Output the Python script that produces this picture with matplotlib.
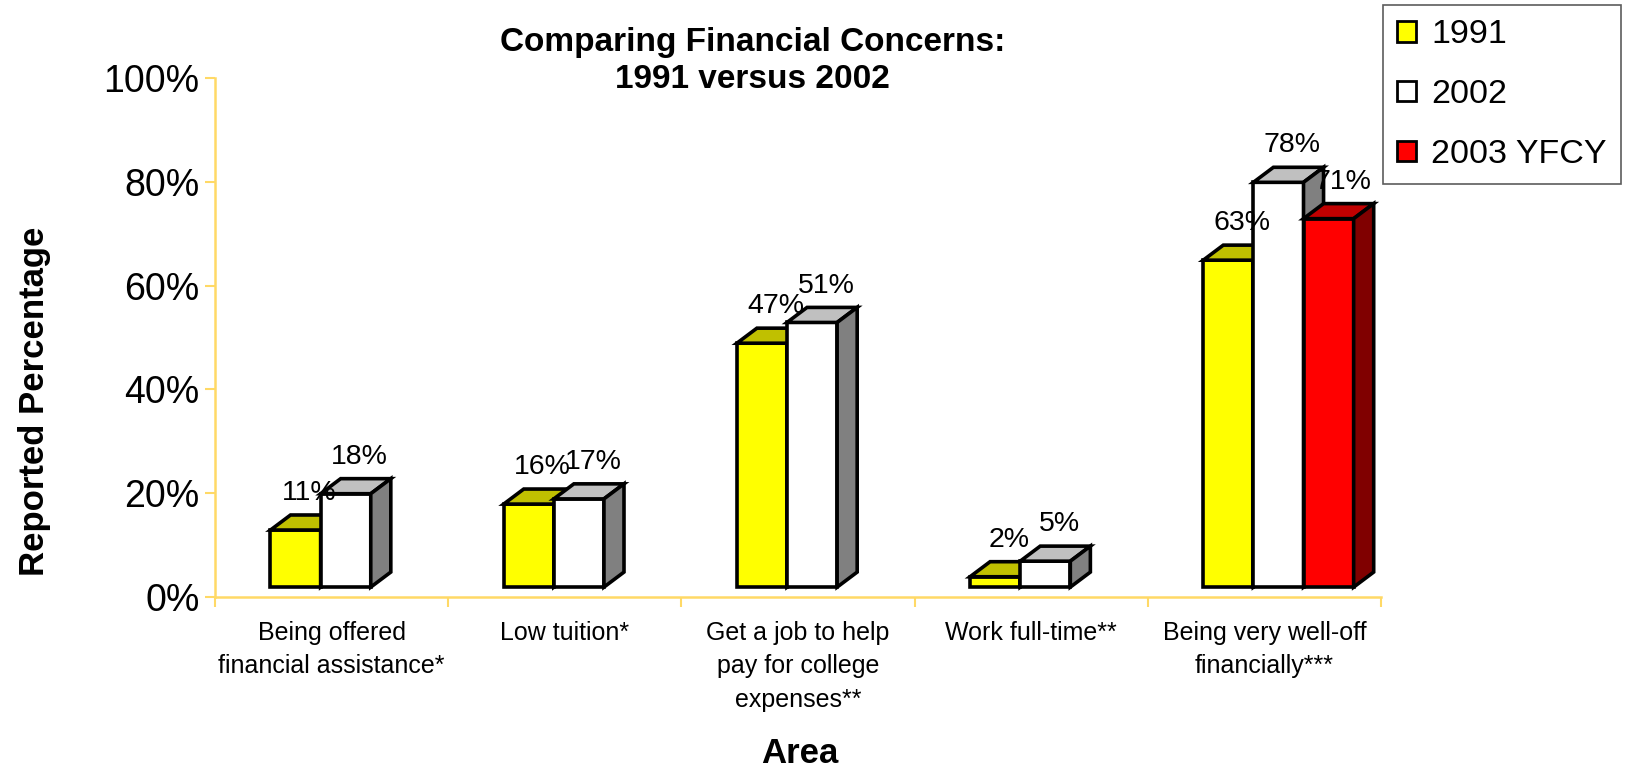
import matplotlib.pyplot as plt
from matplotlib.patches import Polygon, Patch
import numpy as np

plt.rcParams['font.family'] = ['Liberation Sans', 'DejaVu Sans']

categories = ["Being offered\nfinancial assistance*", "Low tuition*",
              "Get a job to help\npay for college\nexpenses**", "Work full-time**",
              "Being very well-off\nfinancially***"]
series_names = ["1991", "2002", "2003 YFCY"]
vals_1991 = [11, 16, 47, 2, 63]
vals_2002 = [18, 17, 51, 5, 78]
vals_2003 = [None, None, None, None, 71]

# front / top / side colours, excel style
faces = [("#FFFF00", "#C0C000", "#808000"),
         ("#FFFFFF", "#C0C0C0", "#808080"),
         ("#FF0000", "#C00000", "#800000")]

GOLD = "#FFD966"
BASE = 1.9      # front face sits a little above the floor line
DX = 0.086      # depth in x units
DY = 2.9        # depth in y units
W = 0.215
LW = 2.6

fig = plt.figure(figsize=(16.25, 7.71), dpi=100)
ax = fig.add_axes([0.1323, 0.2257, 0.8498 - 0.1323, 0.8988 - 0.2257])

x = np.arange(len(categories))
all_vals = [vals_1991, vals_2002, vals_2003]

for k, vals in enumerate(all_vals):
    front, top, side = faces[k]
    xs = [xi for xi, v in zip(x, vals) if v is not None]
    vs = [v for v in vals if v is not None]
    left = np.array(xs) - 0.262 + k * W
    ax.bar(left, vs, width=W, bottom=BASE, align='edge', color=front,
           edgecolor='black', linewidth=LW, zorder=3 + k)
    for xl, v in zip(left, vs):
        t = BASE + v
        xr = xl + W
        ax.add_patch(Polygon([(xl, t), (xl + DX, t + DY), (xr + DX, t + DY), (xr, t)],
                             closed=True, facecolor=top, edgecolor='black',
                             linewidth=LW, zorder=3 + k))
        ax.add_patch(Polygon([(xr, BASE), (xr + DX, BASE + DY), (xr + DX, t + DY), (xr, t)],
                             closed=True, facecolor=side, edgecolor='black',
                             linewidth=LW, zorder=3 + k))
        ax.text(xl + W / 2 + 0.06, v + 9.0, f"{v}%", ha='center', va='center',
                fontsize=20.5, color='black', zorder=10)

ax.set_xlim(-0.5, len(categories) - 0.5)
ax.set_ylim(0, 100)

ax.set_yticks(np.arange(0, 101, 20))
ax.set_yticklabels([f"{v}%" for v in range(0, 101, 20)], fontsize=27)
ax.set_xticks(np.arange(-0.5, len(categories), 1.0))
ax.set_xticklabels([])
ax.set_xticks(x, minor=True)
ax.set_xticklabels(categories, minor=True, fontsize=18, linespacing=1.5, va='top')
ax.tick_params(axis='y', length=7, width=1.5, color=GOLD, pad=4)
ax.tick_params(axis='x', which='major', length=7, width=1.5, color=GOLD)
ax.tick_params(axis='x', which='minor', length=0, pad=17)

for s in ['top', 'right']:
    ax.spines[s].set_visible(False)
for s in ['left', 'bottom']:
    ax.spines[s].set_color(GOLD)
    ax.spines[s].set_linewidth(1.8)

fig.text(0.463, 0.9215, "Comparing Financial Concerns:\n1991 versus 2002", ha='center',
         va='center', fontsize=24, fontweight='bold', linespacing=1.25)
fig.text(0.0215, 0.48, "Reported Percentage", rotation=90, ha='center', va='center',
         fontsize=25, fontweight='bold')
fig.text(0.4923, 0.0233, "Area", ha='center', va='center', fontsize=25, fontweight='bold')

handles = [Patch(facecolor=f[0], edgecolor='black', linewidth=2) for f in faces]
leg = fig.legend(handles, series_names, loc='upper right', bbox_to_anchor=(0.9975, 0.9935),
                 fontsize=24.5, frameon=True, fancybox=False, handlelength=0.55,
                 handleheight=0.55, handletextpad=0.45, labelspacing=0.85,
                 borderpad=0.42, borderaxespad=0)
leg.get_frame().set_edgecolor('#333333')
leg.get_frame().set_linewidth(1.2)

plt.savefig('out.png', dpi=100)
